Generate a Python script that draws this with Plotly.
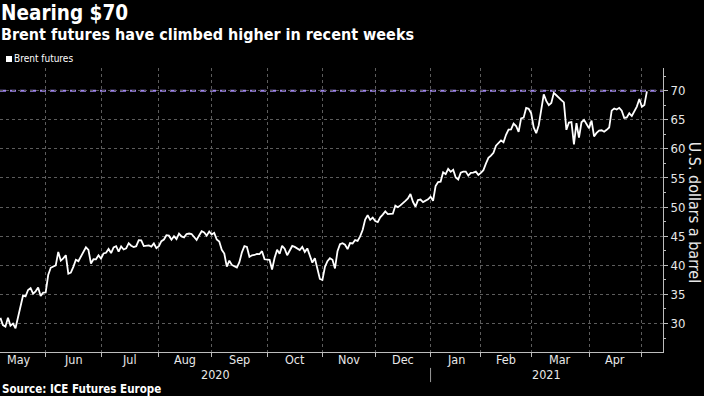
import pandas as pd
import plotly.graph_objects as go

# ---------------- data ----------------
HOLIDAYS = ["2020-12-25", "2021-01-01", "2021-04-02"]   # ICE Brent non-trading days

may20 = [30.97, 29.72, 29.46, 30.97, 29.63, 29.98, 29.19, 31.13, 32.50, 34.81,
         34.65, 35.75, 36.06, 35.13, 35.53, 36.17, 34.74, 35.29, 35.33]
jun20 = [38.32, 39.57, 39.79, 39.99, 42.30, 40.80, 41.18, 41.73, 38.55, 38.73,
         39.72, 40.96, 40.71, 41.51, 42.19, 43.08, 42.63, 40.31, 41.05, 41.02,
         41.71, 41.15]
jul20 = [42.03, 42.14, 42.80, 42.10, 43.08, 43.29, 42.35, 43.24, 42.72, 42.90,
         43.79, 43.37, 43.14, 43.28, 44.32, 44.29, 43.31, 43.34, 43.41, 43.22,
         43.75, 42.94, 43.30]
aug20 = [44.15, 44.43, 45.17, 45.09, 44.40, 44.99, 44.50, 45.43, 44.96, 44.80,
         45.37, 45.46, 45.37, 44.90, 44.35, 45.13, 45.86, 45.64, 45.09, 45.81,
         45.28]
sep20 = [45.58, 44.43, 44.07, 42.66, 42.01, 39.78, 40.79, 40.06, 39.83, 39.61,
         40.53, 42.22, 43.30, 43.15, 41.44, 41.72, 41.77, 41.94, 41.92, 42.43,
         41.03, 40.95]
oct20 = [40.93, 39.27, 41.29, 42.65, 41.99, 43.34, 42.85, 41.72, 42.45, 43.32,
         43.16, 42.93, 42.62, 43.16, 42.30, 42.90, 41.80, 40.46, 41.20, 39.12,
         37.65, 37.46]
nov20 = [39.71, 40.71, 41.23, 40.93, 39.45, 42.40, 43.61, 43.80, 43.53, 42.78,
         43.82, 43.75, 44.34, 44.20, 44.96, 46.06, 47.86, 48.61, 47.80, 48.18,
         47.59]
dec20 = [47.42, 48.25, 48.71, 49.25, 48.79, 48.84, 48.86, 50.25, 49.97, 50.29,
         50.76, 51.08, 51.50, 52.26, 50.91, 50.08, 51.20, 51.29, 50.86, 51.09,
         51.34, 51.80]
jan21 = [51.09, 53.60, 54.30, 54.38, 55.99, 55.66, 56.58, 56.06, 56.42, 55.10,
         54.75, 55.90, 56.08, 56.10, 55.41, 55.88, 55.91, 56.09, 55.53, 55.88]
feb21 = [56.35, 57.46, 58.46, 58.84, 59.34, 60.56, 61.09, 61.47, 61.14, 62.43,
         63.30, 63.35, 64.34, 63.93, 62.91, 65.24, 65.37, 67.04, 66.88, 66.13]
mar21 = [63.69, 62.70, 64.07, 66.74, 69.36, 68.24, 67.52, 67.90, 69.63, 69.22,
         68.88, 68.39, 68.00, 63.28, 64.53, 64.62, 60.79, 64.41, 61.95, 64.57,
         64.98, 64.14, 63.54]
apr21 = [64.86, 62.15, 62.74, 63.16, 63.20, 62.95, 63.28, 63.67, 66.58, 66.94,
         66.77, 67.05, 66.57, 65.32, 65.40, 66.11, 65.65, 66.42, 67.27, 68.56,
         67.25]
may21 = [67.56, 69.88]

prices = (may20 + jun20 + jul20 + aug20 + sep20 + oct20 + nov20 + dec20
          + jan21 + feb21 + mar21 + apr21 + may21)

FIRST_DAY, LAST_DAY = "2020-05-05", "2021-05-04"
SERIES_NAME = "Brent futures"
Y_TITLE = "U.S. dollars a barrel"
TARGET = 70
MONTH_LABELS = ["May", "Jun", "Jul", "Aug", "Sep", "Oct", "Nov", "Dec",
                "Jan", "Feb", "Mar", "Apr"]
YEAR_LABELS = ["2020", "2021"]
Y_TICKS = [30, 35, 40, 45, 50, 55, 60, 65, 70]

# ---------------- calendar ----------------
def trading_days(a, b):
    return [d for d in pd.bdate_range(a, b) if d.strftime("%Y-%m-%d") not in HOLIDAYS]

dates = trading_days(FIRST_DAY, LAST_DAY)
assert len(dates) == len(prices), (len(dates), len(prices))

cal = trading_days("2020-04-01", "2021-05-31")
pos = {d: i for i, d in enumerate(cal)}

def at(p):
    i = int(p // 1)
    return cal[i] + pd.Timedelta(days=p - i)

# month boundaries = last trading day of each month (Apr 2020 .. Apr 2021)
month_end = {}
for d in cal:
    month_end[(d.year, d.month)] = d
months = [(2020, m) for m in range(4, 13)] + [(2021, m) for m in range(1, 5)]
bounds = [month_end[m] for m in months]
boundary_pos = [pos[d] for d in bounds]
label_pos = [(a + b) / 2 for a, b in zip(boundary_pos[:-1], boundary_pos[1:])]

x_start = pos[dates[0]] - 0.16
x_end = pos[dates[-1]] + 6.4
year_split = pos[month_end[(2020, 12)]]
year_pos = [(x_start + year_split) / 2, (year_split + x_end) / 2]

# ---------------- figure ----------------
FONT = "DejaVu Sans Condensed, DejaVu Sans, sans-serif"
GRID = "#5c5c5c"
AXIS = "#bdbdbd"
TXT = "#e8e8e8"

fig = go.Figure()
fig.add_trace(go.Scatter(x=dates, y=prices, mode="lines", name=SERIES_NAME,
                         line=dict(color="white", width=1.8), showlegend=False))

fig.add_shape(type="line", xref="paper", x0=0, x1=1, yref="y", y0=TARGET, y1=TARGET,
              line=dict(color="#a186ee", width=2, dash="6px,4px"), layer="below")

# year separator below the axis
fig.add_shape(type="line", xref="x", x0=at(year_split), x1=at(year_split),
              yref="paper", y0=-0.056, y1=-0.106, line=dict(color="#9a9a9a", width=1))

ann = []
for name, p in zip(MONTH_LABELS, label_pos):
    ann.append(dict(x=at(p), xref="x", y=-0.028, yref="paper", text=name,
                    showarrow=False, xanchor="center", yanchor="middle",
                    font=dict(family=FONT, size=12.5, color=TXT)))
for name, p in zip(YEAR_LABELS, year_pos):
    ann.append(dict(x=at(p), xref="x", y=-0.079, yref="paper", text=name,
                    showarrow=False, xanchor="center", yanchor="middle",
                    font=dict(family=FONT, size=12.5, color=TXT)))

ann.append(dict(x=0, xref="paper", y=1.193, yref="paper", text="<b>Nearing $70</b>",
                showarrow=False, xanchor="left", yanchor="middle", borderpad=0,
                font=dict(family=FONT, size=20.5, color="white")))
ann.append(dict(x=0, xref="paper", y=1.118, yref="paper",
                text="<b>Brent futures have climbed higher in recent weeks</b>",
                showarrow=False, xanchor="left", yanchor="middle", borderpad=0,
                font=dict(family=FONT, size=16, color="white")))
ann.append(dict(x=0.018, xref="paper", y=1.032, yref="paper", text=SERIES_NAME,
                showarrow=False, xanchor="left", yanchor="middle",
                font=dict(family=FONT, size=10, color="white")))
ann.append(dict(x=0, xref="paper", y=-0.13, yref="paper",
                text="<b>Source: ICE Futures Europe</b>",
                showarrow=False, xanchor="left", yanchor="middle",
                font=dict(family=FONT, size=11.5, color="white")))
# right-hand axis title (reads top to bottom)
ann.append(dict(x=1.047, xref="paper", y=0.49, yref="paper", text=Y_TITLE,
                showarrow=False, xanchor="center", yanchor="middle", textangle=90,
                font=dict(family=FONT, size=16, color=TXT)))

# legend swatch
fig.add_shape(type="rect", xref="paper", x0=6 / 663, x1=12 / 663,
              yref="paper", y0=(352 - 62) / 284, y1=(352 - 56) / 284,
              fillcolor="white", line=dict(width=0))

fig.update_layout(
    width=704, height=396,
    paper_bgcolor="black", plot_bgcolor="black",
    margin=dict(l=0, r=41, t=68, b=44),
    showlegend=False,
    annotations=ann,
    xaxis=dict(
        type="date", range=[at(x_start), at(x_end)],
        rangebreaks=[dict(bounds=["sat", "mon"]), dict(values=HOLIDAYS)],
        tickmode="array", tickvals=bounds, showticklabels=False,
        ticks="outside", ticklen=4, tickcolor=AXIS, tickwidth=1,
        showgrid=True, gridcolor=GRID, griddash="dot", gridwidth=1,
        showline=True, linecolor=AXIS, linewidth=1, zeroline=False,
        automargin=False, fixedrange=True,
    ),
    yaxis=dict(
        side="right", range=[25.1, 73.9],
        tickmode="array", tickvals=Y_TICKS, ticktext=[str(v) for v in Y_TICKS],
        ticks="outside", ticklen=4, tickcolor=AXIS, tickwidth=1,
        minor=dict(tickmode="array", tickvals=[v - 2.5 for v in Y_TICKS] + [Y_TICKS[-1] + 2.5],
                   ticks="outside", ticklen=2, tickcolor=AXIS, showgrid=False),
        tickfont=dict(family=FONT, size=13, color=TXT),
        showgrid=True, gridcolor=GRID, griddash="dot", gridwidth=1,
        showline=True, linecolor=AXIS, linewidth=1, zeroline=False,
        automargin=False, fixedrange=True,
    ),
)

fig.write_html("out.html",
               config={"displayModeBar": False},
               post_script="document.body.style.margin='0px';"
                           "document.body.style.background='black';")
